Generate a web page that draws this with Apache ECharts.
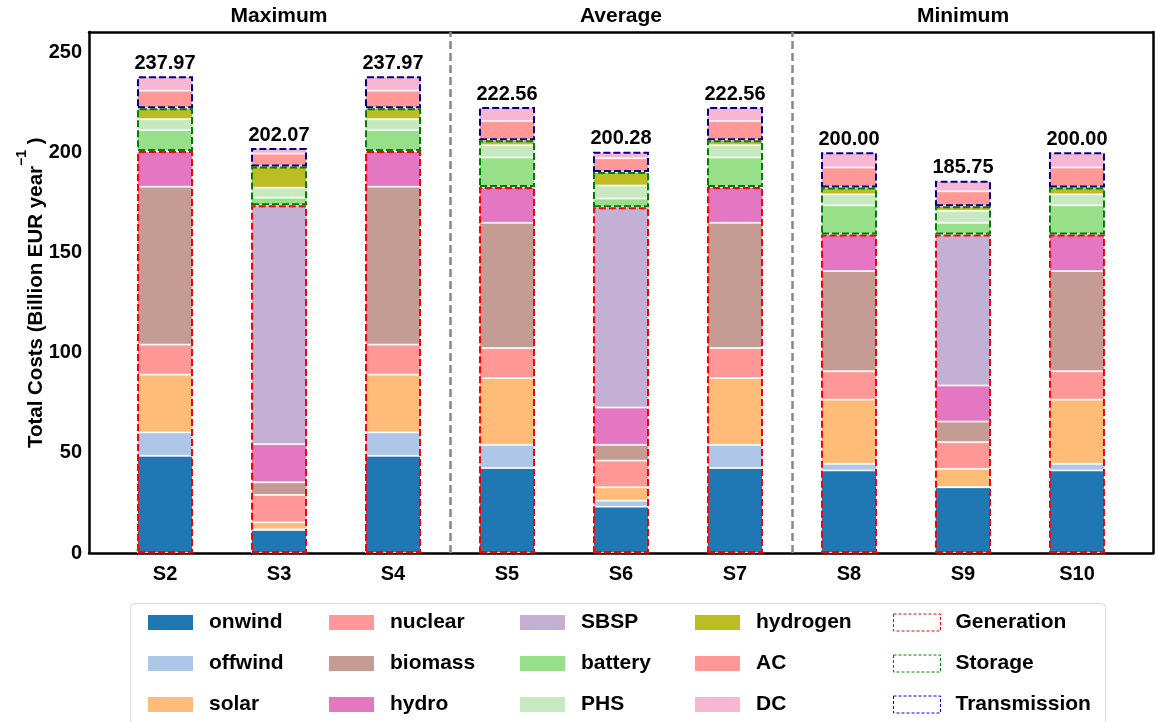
<!DOCTYPE html>
<html>
<head>
<meta charset="utf-8">
<script src="https://cdn.jsdelivr.net/npm/echarts@6/dist/echarts.min.js"></script>
<style>html,body{margin:0;padding:0;background:#fff}#c{width:1156px;height:722px}</style>
</head>
<body>
<div id="c"></div>
<script>
const categories = ['S2','S3','S4','S5','S6','S7','S8','S9','S10'];
const groupNames = ['Maximum','Average','Minimum'];
const groupCenters = [1, 4, 7];
const groupSeparators = [2.5, 5.5];
const yTicks = [0, 50, 100, 150, 200, 250];

const onwind   = [48.5, 11.5, 48.5, 42.4, 23.1, 42.4, 41.2, 32.8, 41.2];
const offwind  = [11.7, 0.3, 11.7, 11.6, 3.0, 11.6, 3.3, 0.2, 3.3];
const solar    = [28.8, 3.5, 28.8, 33.3, 6.7, 33.3, 32.0, 9.0, 32.0];
const nuclear  = [15.0, 13.7, 15.0, 15.0, 13.3, 15.0, 14.2, 13.3, 14.2];
const biomass  = [78.8, 6.3, 78.8, 62.5, 7.9, 62.5, 50.0, 10.3, 50.0];
const hydro    = [17.8, 19.0, 17.8, 17.8, 18.6, 17.8, 18.3, 18.0, 18.3];
const SBSP     = [0, 119.2, 0, 0, 100.0, 0, 0, 75.4, 0];
const battery  = [10.4, 3.8, 10.4, 14.8, 4.3, 14.8, 14.5, 5.8, 14.5];
const PHS      = [5.5, 5.0, 5.5, 6.1, 6.5, 6.1, 5.5, 6.0, 5.5];
const hydrogen = [5.5, 10.6, 5.5, 2.5, 6.7, 2.5, 3.4, 2.2, 3.4];
const AC       = [8.7, 6.4, 8.7, 9.5, 6.9, 9.5, 10.0, 7.5, 10.0];
const DC       = [7.27, 2.77, 7.27, 7.06, 3.28, 7.06, 7.6, 5.25, 7.6];
const totals   = [237.97, 202.07, 237.97, 222.56, 200.28, 222.56, 200.00, 185.75, 200.00];

const components = [
  {name:'onwind', data:onwind, color:'#1f77b4', group:'gen'},
  {name:'offwind', data:offwind, color:'#aec7e8', group:'gen'},
  {name:'solar', data:solar, color:'#ffbb78', group:'gen'},
  {name:'nuclear', data:nuclear, color:'#ff9896', group:'gen'},
  {name:'biomass', data:biomass, color:'#c49c94', group:'gen'},
  {name:'hydro', data:hydro, color:'#e377c2', group:'gen'},
  {name:'SBSP', data:SBSP, color:'#c5b0d5', group:'gen'},
  {name:'battery', data:battery, color:'#98df8a', group:'sto'},
  {name:'PHS', data:PHS, color:'#c7e9c0', group:'sto'},
  {name:'hydrogen', data:hydrogen, color:'#bcbd22', group:'sto'},
  {name:'AC', data:AC, color:'#ff9896', group:'tra'},
  {name:'DC', data:DC, color:'#f7b6d2', group:'tra'}
];
const outlines = [
  {name:'Generation', group:'gen', color:'#ff0000', legendColor:'#ff0000'},
  {name:'Storage', group:'sto', color:'#008000', legendColor:'#008000'},
  {name:'Transmission', group:'tra', color:'#00008b', legendColor:'#0000ff'}
];

function groupSum(g, i){
  return components.filter(c => c.group === g).reduce((s, c) => s + c.data[i], 0);
}

const FONT = '"Liberation Sans", Arial, sans-serif';
const series = [];
components.forEach((c, k) => {
  const s = {
    name: c.name, type: 'bar', stack: 'parts', barWidth: 56, barGap: '-100%',
    data: c.data.map((v, i) => [v, i]),
    encode: {x: 1, y: 0},
    itemStyle: {color: c.color, borderColor: '#ffffff', borderWidth: 0.8},
    emphasis: {disabled: true}, z: 2
  };
  if (k === 0) {
    s.markLine = {
      silent: true, symbol: ['none','none'],
      label: {show: false},
      lineStyle: {color: '#888888', type: [8, 4], width: 2.5},
      data: groupSeparators.map(x => ({xAxis: x}))
    };
  }
  series.push(s);
});
outlines.forEach((o, k) => {
  const s = {
    name: o.name, type: 'bar', stack: 'outline', barWidth: 56, barGap: '-100%',
    data: categories.map((_, i) => [groupSum(o.group, i), i]),
    encode: {x: 1, y: 0},
    itemStyle: {color: 'rgba(0,0,0,0)', borderColor: o.color, borderWidth: 2, borderType: [7, 3]},
    emphasis: {disabled: true}, z: 5
  };
  if (k === outlines.length - 1) {
    s.label = {
      show: true, position: 'top', distance: 3,
      formatter: p => totals[p.dataIndex].toFixed(2),
      color: '#000', fontSize: 20, fontWeight: 'bold', fontFamily: FONT
    };
  }
  series.push(s);
});

const legendCols = [
  ['onwind','offwind','solar'],
  ['nuclear','biomass','hydro'],
  ['SBSP','battery','PHS'],
  ['hydrogen','AC','DC'],
  ['Generation','Storage','Transmission']
];
const legendLefts = [146, 327, 518, 693, 893];
const legends = legendCols.map((col, ci) => ({
  orient: 'vertical', left: legendLefts[ci], top: 612, padding: 0,
  itemWidth: 47, itemHeight: 17, itemGap: 20,
  selectedMode: false,
  textStyle: {fontSize: 21, fontWeight: 'bold', color: '#000', fontFamily: FONT, lineHeight: 21, padding: [0,0,0,10]},
  data: col.map(n => {
    const o = outlines.find(x => x.name === n);
    if (o) return {name: n, icon: 'rect', itemStyle: {color: 'rgba(0,0,0,0)', borderColor: o.legendColor, borderWidth: 1, borderType: [3, 2]}};
    return {name: n, icon: 'rect'};
  })
}));

const chart = echarts.init(document.getElementById('c'), null, {renderer: 'canvas'});
chart.setOption({
  animation: false,
  backgroundColor: '#ffffff',
  grid: {left: 89, right: 3, top: 32, bottom: 169, containLabel: false, outerBoundsMode: 'none'},
  legend: legends,
  xAxis: [
    {
      type: 'value', min: -0.667, max: 8.667, position: 'bottom',
      axisLine: {show: true, onZero: false, lineStyle: {color: '#000', width: 2.5}},
      axisTick: {show: false},
      splitLine: {show: false},
      axisLabel: {
        customValues: categories.map((_, i) => i),
        formatter: v => categories[Math.round(v)],
        margin: 11, fontSize: 20, fontWeight: 'bold', color: '#000', fontFamily: FONT
      }
    },
    {
      type: 'value', min: -0.667, max: 8.667, position: 'top',
      axisLine: {show: true, onZero: false, lineStyle: {color: '#000', width: 2.5}},
      axisTick: {show: false},
      splitLine: {show: false},
      axisLabel: {
        customValues: groupCenters,
        formatter: v => groupNames[groupCenters.indexOf(Math.round(v))],
        margin: 5, fontSize: 21, fontWeight: 'bold', color: '#000', fontFamily: FONT
      }
    }
  ],
  yAxis: [
    {
      type: 'value', min: 0, max: 260, position: 'left',
      axisLine: {show: true, onZero: false, lineStyle: {color: '#000', width: 2.5}},
      axisTick: {show: false},
      splitLine: {show: false},
      axisLabel: {
        customValues: yTicks,
        margin: 7, fontSize: 20, fontWeight: 'bold', color: '#000', fontFamily: FONT
      },
      name: '{a|Total Costs (Billion EUR year}{s|−1}{a| )}{h| }',
      nameLocation: 'middle', nameGap: 42, nameRotate: 90, nameMoveOverlap: false,
      nameTextStyle: {
        fontFamily: FONT,
        rich: {
          a: {fontSize: 20.5, fontWeight: 'bold', color: '#000', fontFamily: FONT, lineHeight: 22, verticalAlign: 'bottom'},
          s: {fontSize: 14, fontWeight: 'bold', color: '#000', fontFamily: FONT, lineHeight: 14, verticalAlign: 'top'},
          h: {fontSize: 2, lineHeight: 32, color: 'rgba(0,0,0,0)'}
        }
      }
    },
    {
      type: 'value', min: 0, max: 260, position: 'right',
      axisLine: {show: true, onZero: false, lineStyle: {color: '#000', width: 2.5}},
      axisTick: {show: false}, axisLabel: {show: false}, splitLine: {show: false}
    }
  ],
  graphic: [{
    type: 'rect', left: 130, top: 603, z: -1,
    shape: {width: 975, height: 130, r: 4},
    style: {fill: '#ffffff', stroke: '#d9d9d9', lineWidth: 1}
  }],
  series: series
});
</script>
</body>
</html>
